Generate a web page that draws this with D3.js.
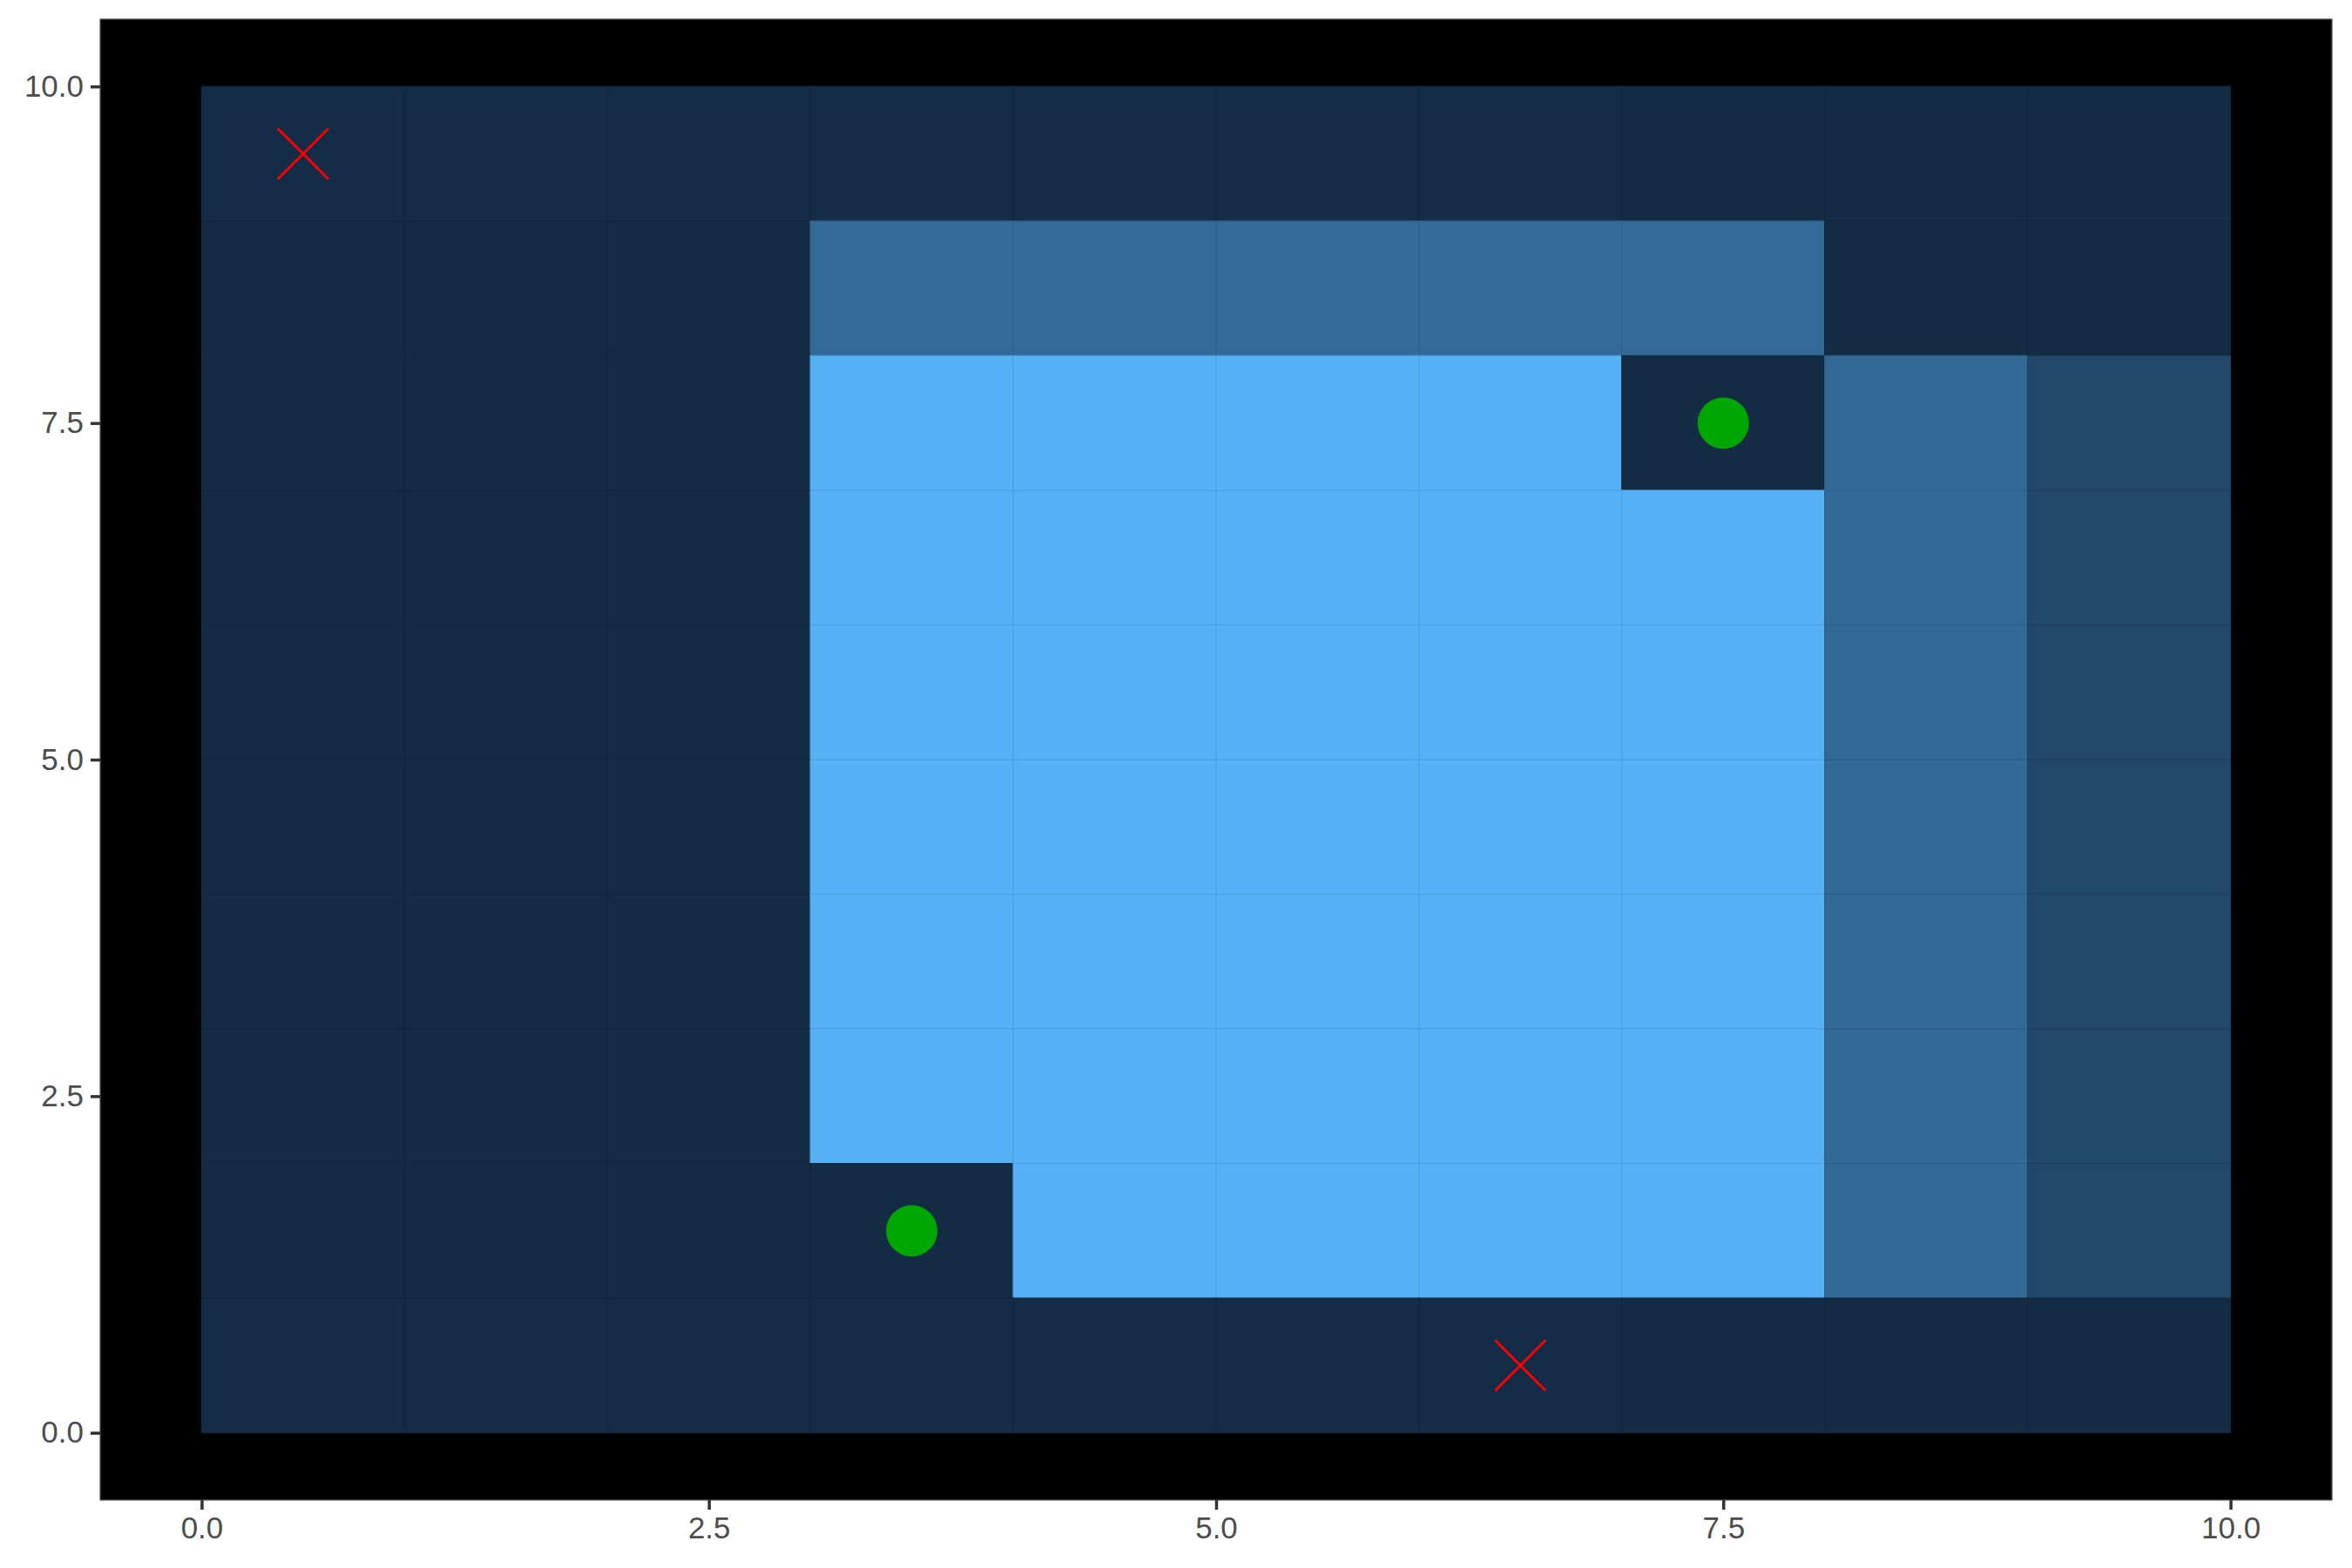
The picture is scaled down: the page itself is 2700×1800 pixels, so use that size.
<!DOCTYPE html>
<html>
<head>
<meta charset="utf-8">
<script src="https://cdn.jsdelivr.net/npm/d3@7"></script>
<style>
  html, body { margin: 0; padding: 0; background: #ffffff; }
  svg { display: block; }
</style>
</head>
<body>
<svg id="chart" width="2700" height="1800"></svg>
<script>
// ---- data ----
const colIndex = [0, 1, 2, 3, 4, 5, 6, 7, 8, 9];
const rowIndex = [9, 8, 7, 6, 5, 4, 3, 2, 1, 0]; // top to bottom
// fill values (0..1) per row, listed from top row (y 9-10) to bottom row (y 0-1)
const row9 = [0.012, 0.012, 0.012, 0.012, 0.012, 0.010, 0.010, 0.008, 0.006, 0.006];
const row8 = [0.006, 0.006, 0.006, 0.50, 0.50, 0.50, 0.50, 0.50, 0.006, 0.006];
const row7 = [0.006, 0.006, 0.006, 1.00, 1.00, 1.00, 1.00, 0.00, 0.49, 0.23];
const row6 = [0.006, 0.006, 0.006, 1.00, 1.00, 1.00, 1.00, 1.00, 0.49, 0.23];
const row5 = [0.006, 0.006, 0.006, 1.00, 1.00, 1.00, 1.00, 1.00, 0.49, 0.23];
const row4 = [0.006, 0.006, 0.006, 1.00, 1.00, 1.00, 1.00, 1.00, 0.49, 0.23];
const row3 = [0.006, 0.006, 0.006, 1.00, 1.00, 1.00, 1.00, 1.00, 0.49, 0.23];
const row2 = [0.006, 0.006, 0.006, 1.00, 1.00, 1.00, 1.00, 1.00, 0.49, 0.23];
const row1 = [0.006, 0.006, 0.006, 0.00, 1.00, 1.00, 1.00, 1.00, 0.49, 0.23];
const row0 = [0.012, 0.012, 0.012, 0.012, 0.012, 0.010, 0.010, 0.008, 0.006, 0.006];
const valueRows = [row9, row8, row7, row6, row5, row4, row3, row2, row1, row0];

const crossX = [0.5, 6.5];
const crossY = [9.5, 0.5];
const goalX = [3.5, 7.5];
const goalY = [1.5, 7.5];

const xTicks = [0, 2.5, 5, 7.5, 10];
const yTicks = [0, 2.5, 5, 7.5, 10];
const tickLabels = ["0.0", "2.5", "5.0", "7.5", "10.0"];

// ---- layout ----
const svg = d3.select("#chart");
const pLeft = 115, pRight = 2677, pTop = 22, pBottom = 1722;

const x = d3.scaleLinear().domain([-0.5, 10.5]).range([pLeft, pRight]);
const y = d3.scaleLinear().domain([-0.5, 10.5]).range([pBottom, pTop]);
const color = d3.scaleLinear().domain([0, 1]).range(["#132B43", "#56B1F7"])
  .interpolate(d3.interpolateLab);

// panel background
svg.append("rect")
  .attr("x", pLeft).attr("y", pTop)
  .attr("width", pRight - pLeft).attr("height", pBottom - pTop)
  .attr("fill", "#000000");

// tiles
const cells = [];
valueRows.forEach((row, ri) => {
  row.forEach((v, ci) => {
    cells.push({ c: colIndex[ci], r: rowIndex[ri], v: v });
  });
});

svg.append("g").selectAll("rect")
  .data(cells)
  .join("rect")
  .attr("x", d => x(d.c))
  .attr("y", d => y(d.r + 1))
  .attr("width", d => x(d.c + 1) - x(d.c))
  .attr("height", d => y(d.r) - y(d.r + 1))
  .attr("fill", d => color(d.v))
  .attr("stroke", d => d3.color(color(d.v)).darker(0.25))
  .attr("stroke-width", 1.2);

// crosses
const cs = 29;
const crosses = svg.append("g");
crossX.forEach((cx, i) => {
  const px = x(cx), py = y(crossY[i]);
  crosses.append("path")
    .attr("d", `M${px - cs},${py - cs}L${px + cs},${py + cs}M${px - cs},${py + cs}L${px + cs},${py - cs}`)
    .attr("stroke", "#FF0000")
    .attr("stroke-width", 3)
    .attr("fill", "none");
});

// goals
svg.append("g").selectAll("circle")
  .data(goalX.map((gx, i) => ({ gx: gx, gy: goalY[i] })))
  .join("circle")
  .attr("cx", d => x(d.gx))
  .attr("cy", d => y(d.gy))
  .attr("r", 29.5)
  .attr("fill", "#00A600");

// panel border
svg.append("rect")
  .attr("x", pLeft).attr("y", pTop)
  .attr("width", pRight - pLeft).attr("height", pBottom - pTop)
  .attr("fill", "none")
  .attr("stroke", "#555555")
  .attr("stroke-width", 1.2);

// axes
const xAxis = d3.axisBottom(x).tickValues(xTicks)
  .tickFormat((d, i) => tickLabels[i]).tickSize(11).tickPadding(8);
const yAxis = d3.axisLeft(y).tickValues(yTicks)
  .tickFormat((d, i) => tickLabels[i]).tickSize(11).tickPadding(8);

const gxAxis = svg.append("g").attr("transform", `translate(0,${pBottom})`).call(xAxis);
const gyAxis = svg.append("g").attr("transform", `translate(${pLeft},0)`).call(yAxis);

[gxAxis, gyAxis].forEach(g => {
  g.select(".domain").remove();
  g.selectAll(".tick line").attr("stroke", "#333333").attr("stroke-width", 3.5);
  g.selectAll(".tick text")
    .attr("fill", "#4D4D4D")
    .style("font-family", "'Liberation Sans', Arial, Helvetica, sans-serif")
    .style("font-size", "35px");
});
</script>
</body>
</html>
